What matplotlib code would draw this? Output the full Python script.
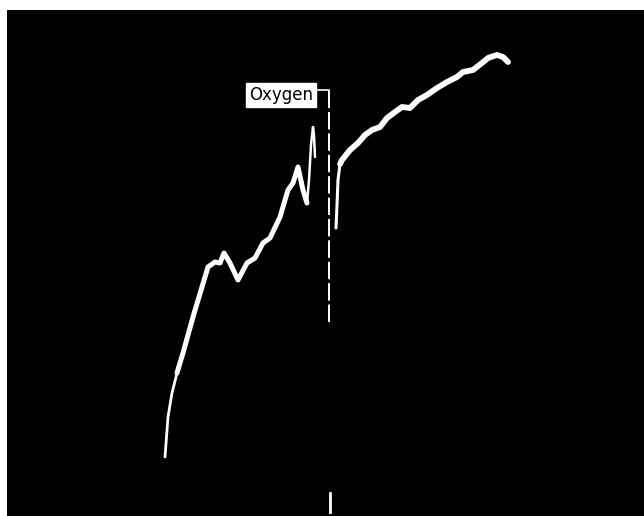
import matplotlib.pyplot as plt

# readings (time units, signal height)
low_t = [165, 168, 172, 177]
low_sig = [59, 99, 123, 143]

rise_t = [177, 183, 193, 208, 215, 220, 224, 230, 238, 247, 255, 263, 270,
          280, 288, 293, 298, 303, 307]
rise_sig = [143, 163, 199, 249, 254, 253, 263, 253, 236, 253, 258, 273, 278,
            299, 326, 333, 349, 326, 313]

spike_t = [307, 309, 311, 313, 314, 315]
spike_sig = [313, 336, 371, 389, 381, 359]

dip_t = [336, 337, 338, 340]
dip_sig = [288, 311, 336, 352]

after_t = [340, 342, 350, 358, 365, 372, 380, 387, 395, 402, 410, 418, 427,
           437, 447, 457, 463, 473, 482, 488, 497, 503, 508]
after_sig = [352, 356, 366, 373, 381, 386, 389, 398, 404, 409, 408, 416, 421,
             428, 434, 439, 444, 446, 453, 458, 461, 459, 454]

oxygen_t = 329
label = "Oxygen"


def main():
    fig = plt.figure(figsize=(6.44, 5.16), dpi=100, facecolor="white")
    ax = fig.add_axes([7 / 644, 0, 637 / 644, 506 / 516])
    ax.set_facecolor("black")
    ax.set_xlim(7, 644)
    ax.set_ylim(0, 506)
    ax.set_xticks([])
    ax.set_yticks([])
    for s in ax.spines.values():
        s.set_visible(False)

    line = dict(color="white", solid_capstyle="round", solid_joinstyle="round")
    ax.plot(low_t, low_sig, lw=2.0, **line)
    ax.plot(rise_t, rise_sig, lw=3.6, **line)
    ax.plot(spike_t, spike_sig, lw=1.8, **line)
    ax.plot(dip_t, dip_sig, lw=2.2, **line)
    ax.plot(after_t, after_sig, lw=4.2, **line)

    # oxygen marker
    ax.plot([oxygen_t, oxygen_t], [194, 426], color="white", lw=1.4,
            linestyle=(0, (9, 2)))
    ax.plot([313, oxygen_t], [426, 426], color="white", lw=1.2)
    ax.plot([oxygen_t + 1, oxygen_t + 1], [4, 23], color="white", lw=2)
    ax.text(281, 421, label, ha="center", va="center", fontsize=12,
            family=["Liberation Sans Narrow", "DejaVu Sans"], color="black",
            bbox=dict(boxstyle="square,pad=0.18", fc="white", ec="white"))

    fig.savefig("out.png", dpi=100, facecolor="white")


if __name__ == "__main__":
    main()
